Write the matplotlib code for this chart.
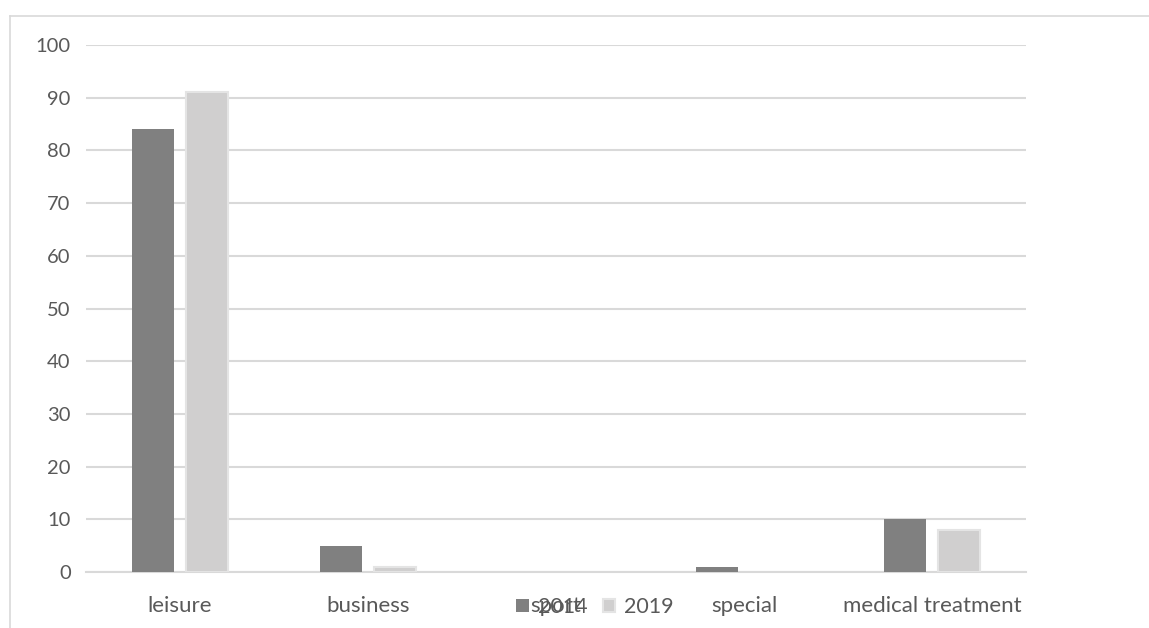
import matplotlib.pyplot as plt
import numpy as np
from matplotlib.lines import Line2D

categories = ['leisure', 'business', 'sport', 'special', 'medical treatment']
y2014 = [84, 5, 0, 1, 10]
y2019 = [91, 1, 0, 0, 8]
yticks = [0, 10, 20, 30, 40, 50, 60, 70, 80, 90, 100]

plt.rcParams['font.family'] = ['Lato', 'DejaVu Sans']

fig = plt.figure(figsize=(11.49, 6.28), dpi=100)
ax = fig.add_axes([86 / 1149, 1 - 572 / 628, 940 / 1149, 527 / 628])

# outer chart frame (only top and left edges are visible in the crop)
fig.add_artist(Line2D([10 / 1149, 1.0], [1 - 16 / 628] * 2, color='#d9d9d9', lw=1.2))
fig.add_artist(Line2D([10 / 1149] * 2, [0, 1 - 16 / 628], color='#d9d9d9', lw=1.2))

x = np.arange(len(categories))
w = 42 / 188
gap = 12 / 188
ax.bar(x - (w + gap) / 2, y2014, width=w, color='#808080', label='2014', zorder=3)
ax.bar(x + (w + gap) / 2, y2019, width=w, color='#d0cfcf', edgecolor='#e4e4e4',
       linewidth=[1.5 if v > 0 else 0 for v in y2019], label='2019', zorder=3)

ax.set_xlim(-0.5, len(categories) - 0.5)
ax.set_ylim(0, 100)
ax.set_yticks(yticks)
ax.set_xticks(x)
ax.set_xticklabels(categories)
ax.grid(axis='y', color='#d9d9d9', lw=1.5, zorder=0)
ax.tick_params(length=0, colors='#595959')
ax.tick_params(axis='y', pad=11, labelsize=14.5)
ax.tick_params(axis='x', pad=17, labelsize=16)
for s in ['top', 'right', 'left']:
    ax.spines[s].set_visible(False)
ax.spines['bottom'].set_color('#d9d9d9')
ax.spines['bottom'].set_linewidth(1.5)

fig.legend(loc='center', bbox_to_anchor=(595 / 1149, 1 - 607 / 628), ncol=2,
           frameon=False, fontsize=15.5, handlelength=0.6, handleheight=0.6,
           handletextpad=0.4, columnspacing=0.7, labelcolor='#595959')

fig.savefig('out.png', dpi=100)
